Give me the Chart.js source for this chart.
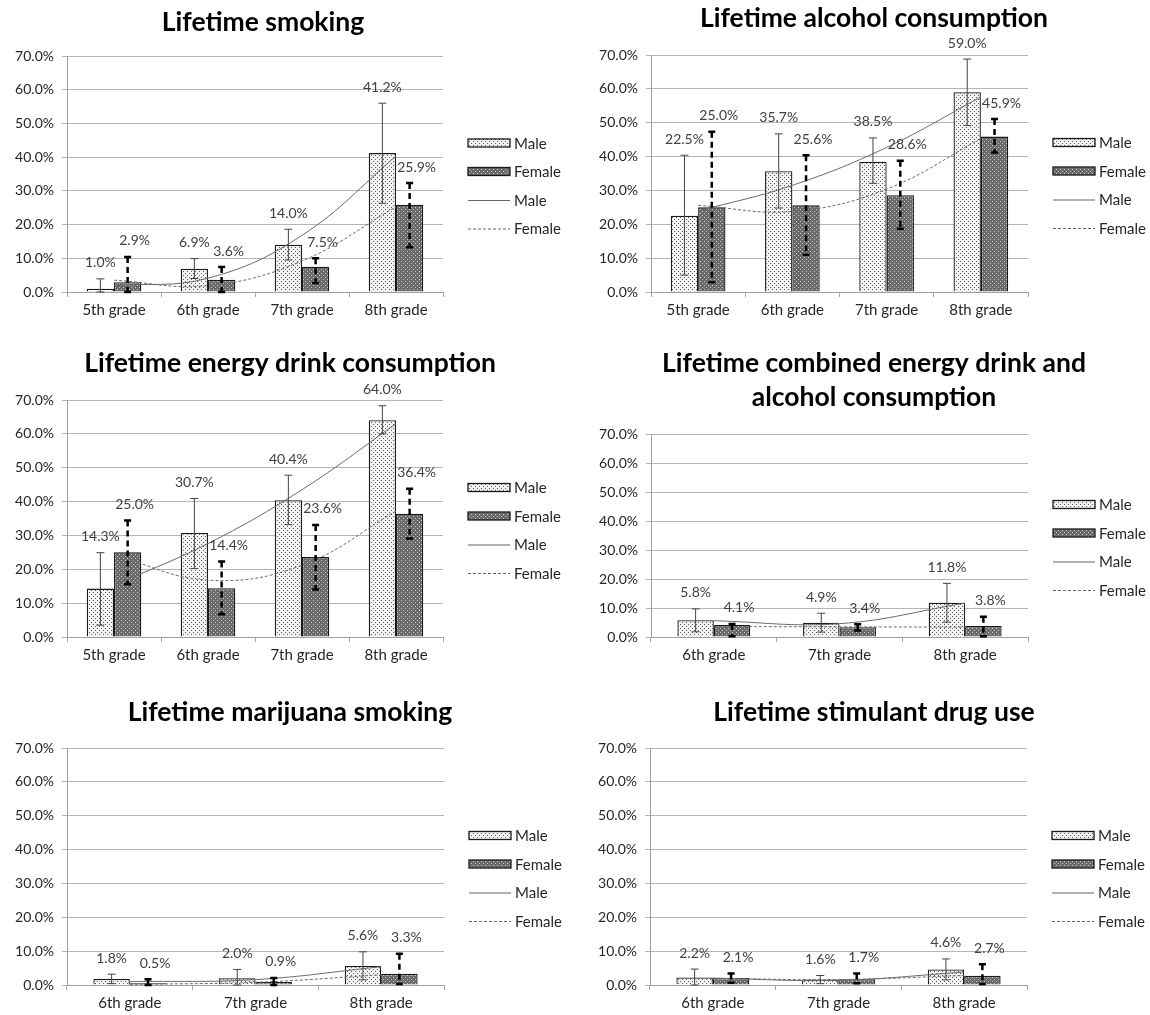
<!DOCTYPE html>
<html>
<head>
<meta charset="utf-8">
<script src="https://cdn.jsdelivr.net/npm/chart.js@4.4.0/dist/chart.umd.min.js"></script>
<style>
  body { margin: 0; background: #fff; }
  #wrap { position: relative; width: 1150px; height: 1015px; overflow: hidden; }
  canvas { position: absolute; }
</style>
</head>
<body>
<div id="wrap">
  <canvas id="c1" width="575" height="335" style="left:0px;top:0px"></canvas>
  <canvas id="c2" width="575" height="335" style="left:575px;top:0px"></canvas>
  <canvas id="c3" width="575" height="345" style="left:0px;top:335px"></canvas>
  <canvas id="c4" width="575" height="345" style="left:575px;top:335px"></canvas>
  <canvas id="c5" width="575" height="335" style="left:0px;top:680px"></canvas>
  <canvas id="c6" width="575" height="335" style="left:575px;top:680px"></canvas>
</div>
<script>
// grades
const gradesAll = ['5th grade', '6th grade', '7th grade', '8th grade'];
const gradesUpper = ['6th grade', '7th grade', '8th grade'];
const yTicks = [0, 10, 20, 30, 40, 50, 60, 70];

// Lifetime smoking
const smokeMale = [1.0, 6.9, 14.0, 41.2];
const smokeFemale = [2.9, 3.6, 7.5, 25.9];
const smokeMaleErr = [[0, 3.9], [4.0, 9.9], [9.5, 18.6], [26.3, 56.0]];
const smokeFemaleErr = [[0, 10.4], [0, 7.4], [2.7, 10.0], [13.3, 32.3]];
const smokeMaleTrend = [1.9, 4.1, 16.8, 40.3];
const smokeFemaleTrend = [3.5, 1.9, 9.2, 25.3];

// Lifetime alcohol consumption
const alcMale = [22.5, 35.7, 38.5, 59.0];
const alcFemale = [25.0, 25.6, 28.6, 45.9];
const alcMaleErr = [[5.0, 40.4], [24.8, 46.7], [32.1, 45.5], [49.2, 68.8]];
const alcFemaleErr = [[2.9, 47.3], [11.0, 40.4], [18.7, 38.8], [41.2, 51.1]];
const alcMaleTrend = [23.9, 31.5, 42.7, 57.6];
const alcFemaleTrend = [25.6, 23.8, 30.4, 45.3];

// Lifetime energy drink consumption
const edMale = [14.3, 30.7, 40.4, 64.0];
const edFemale = [25.0, 14.4, 23.6, 36.4];
const edMaleErr = [[3.5, 24.9], [20.2, 40.9], [33.2, 47.8], [60.0, 68.3]];
const edFemaleErr = [[15.6, 34.4], [6.7, 22.3], [14.0, 33.1], [29.1, 43.8]];
const edMaleTrend = [15.3, 27.6, 43.5, 63.0];
const edFemaleTrend = [24.2, 16.8, 21.2, 37.2];

// Lifetime combined energy drink and alcohol consumption
const comboMale = [5.8, 4.9, 11.8];
const comboFemale = [4.1, 3.4, 3.8];
const comboMaleErr = [[1.8, 9.7], [1.7, 8.2], [5.1, 18.5]];
const comboFemaleErr = [[0.3, 4.5], [2.2, 4.4], [0.3, 7.0]];
const comboMaleTrend = [5.6, 4.6, 11.7];
const comboFemaleTrend = [3.6, 3.5, 3.4];

// Lifetime marijuana smoking
const mjMale = [1.8, 2.0, 5.6];
const mjFemale = [0.5, 0.9, 3.3];
const mjMaleErr = [[0.4, 3.2], [0, 4.6], [1.5, 9.8]];
const mjFemaleErr = [[0, 1.7], [0, 2.1], [0.3, 9.2]];
const mjMaleTrend = [1.0, 1.6, 5.4];
const mjFemaleTrend = [0.2, 0.8, 3.0];

// Lifetime stimulant drug use
const stimMale = [2.2, 1.6, 4.6];
const stimFemale = [2.1, 1.7, 2.7];
const stimMaleErr = [[0, 4.7], [0.4, 2.8], [1.5, 7.7]];
const stimFemaleErr = [[0.7, 3.4], [0.5, 3.4], [0.3, 6.1]];
const stimMaleTrend = [2.0, 1.4, 3.8];
const stimFemaleTrend = [2.0, 1.6, 2.8];

// dotted fills like the excel patterns
function makePattern(bg, dot) {
    const c = document.createElement('canvas');
    c.width = 4; c.height = 4;
    const g = c.getContext('2d');
    g.fillStyle = bg;
    g.fillRect(0, 0, 4, 4);
    g.fillStyle = dot;
    g.fillRect(1, 1, 1, 1);
    g.fillRect(3, 3, 1, 1);
    return g.createPattern(c, 'repeat');
}
const malePat = makePattern('#f2f2f2', '#5e5e5e');
const femalePat = makePattern('#6a6a6a', '#c8c8c8');

const FONT = 'Lato, "Open Sans", sans-serif';

// canvas-space layout: y axis width, paddings
const panels = [
    { id: 'c1', title: ['Lifetime smoking'], tx: 263, ty: [22], labels: gradesAll,
      male: smokeMale, female: smokeFemale, mErr: smokeMaleErr, fErr: smokeFemaleErr,
      mTrend: smokeMaleTrend, fTrend: smokeFemaleTrend,
      yw: 67, pad: { top: 56, right: 132, bottom: 13 } },
    { id: 'c2', title: ['Lifetime alcohol consumption'], tx: 299, ty: [18], labels: gradesAll,
      male: alcMale, female: alcFemale, mErr: alcMaleErr, fErr: alcFemaleErr,
      mTrend: alcMaleTrend, fTrend: alcFemaleTrend,
      yw: 76, pad: { top: 55, right: 122, bottom: 13 } },
    { id: 'c3', title: ['Lifetime energy drink consumption'], tx: 290, ty: [28], labels: gradesAll,
      male: edMale, female: edFemale, mErr: edMaleErr, fErr: edFemaleErr,
      mTrend: edMaleTrend, fTrend: edFemaleTrend,
      yw: 67, pad: { top: 65, right: 132, bottom: 13 } },
    { id: 'c4', title: ['Lifetime combined energy drink and', 'alcohol consumption'], tx: 299, ty: [28, 62], labels: gradesUpper,
      male: comboMale, female: comboFemale, mErr: comboMaleErr, fErr: comboFemaleErr,
      mTrend: comboMaleTrend, fTrend: comboFemaleTrend,
      yw: 76, pad: { top: 99, right: 122, bottom: 13 } },
    { id: 'c5', title: ['Lifetime marijuana smoking'], tx: 290, ty: [32], labels: gradesUpper,
      male: mjMale, female: mjFemale, mErr: mjMaleErr, fErr: mjFemaleErr,
      mTrend: mjMaleTrend, fTrend: mjFemaleTrend,
      yw: 67, pad: { top: 68, right: 131, bottom: 0 } },
    { id: 'c6', title: ['Lifetime stimulant drug use'], tx: 299, ty: [32], labels: gradesUpper,
      male: stimMale, female: stimFemale, mErr: stimMaleErr, fErr: stimFemaleErr,
      mTrend: stimMaleTrend, fTrend: stimFemaleTrend,
      yw: 75, pad: { top: 68, right: 123, bottom: 0 } }
];

function drawErrBars(ctx, meta, err, yScale, female) {
    meta.data.forEach((bar, i) => {
        const x = bar.x;
        const yl = yScale.getPixelForValue(err[i][0]);
        const yh = yScale.getPixelForValue(err[i][1]);
        ctx.save();
        if (female) {
            ctx.strokeStyle = '#000';
            ctx.lineWidth = 2.5;
            ctx.setLineDash([6, 4]);
        } else {
            ctx.strokeStyle = '#444';
            ctx.lineWidth = 1;
        }
        ctx.beginPath();
        ctx.moveTo(x, yh);
        ctx.lineTo(x, yl);
        ctx.stroke();
        ctx.setLineDash([]);
        const cw = female ? 3.5 : 4;
        ctx.beginPath();
        ctx.moveTo(x - cw, yh); ctx.lineTo(x + cw, yh);
        ctx.moveTo(x - cw, yl); ctx.lineTo(x + cw, yl);
        ctx.stroke();
        ctx.restore();
    });
}

function makeDecor(p) {
    return {
        id: 'decor',
        afterDatasetsDraw(chart) {
            const ctx = chart.ctx;
            const y = chart.scales.y;
            const mMeta = chart.getDatasetMeta(0);
            const fMeta = chart.getDatasetMeta(1);
            drawErrBars(ctx, mMeta, p.mErr, y, false);
            drawErrBars(ctx, fMeta, p.fErr, y, true);

            // value labels above the error bars
            ctx.save();
            ctx.font = '14px ' + FONT;
            ctx.fillStyle = '#404040';
            ctx.textAlign = 'center';
            ctx.textBaseline = 'middle';
            mMeta.data.forEach((bar, i) => {
                ctx.fillText(p.male[i].toFixed(1) + '%', bar.x, y.getPixelForValue(p.mErr[i][1]) - 16);
            });
            fMeta.data.forEach((bar, i) => {
                ctx.fillText(p.female[i].toFixed(1) + '%', bar.x + 7, y.getPixelForValue(p.fErr[i][1]) - 16);
            });
            ctx.restore();
        },
        afterDraw(chart) {
            const ctx = chart.ctx;
            const a = chart.chartArea;
            ctx.save();
            // title
            ctx.font = 'bold 26.5px ' + FONT;
            ctx.fillStyle = '#000';
            ctx.textAlign = 'center';
            ctx.textBaseline = 'middle';
            p.title.forEach((t, i) => ctx.fillText(t, p.tx, p.ty[i]));

            // legend
            const x0 = a.right + 25;
            const y0 = (a.top + a.bottom) / 2 - 31;
            const items = [
                { kind: 'bar', fill: malePat, text: 'Male' },
                { kind: 'bar', fill: femalePat, text: 'Female' },
                { kind: 'line', dash: [], text: 'Male' },
                { kind: 'line', dash: [3, 2], text: 'Female' }
            ];
            ctx.font = '15px ' + FONT;
            ctx.textAlign = 'left';
            items.forEach((it, i) => {
                const yy = y0 + i * 28.5;
                if (it.kind === 'bar') {
                    ctx.fillStyle = it.fill;
                    ctx.fillRect(x0, yy - 4, 42, 8);
                    ctx.strokeStyle = '#1a1a1a';
                    ctx.lineWidth = 1.3;
                    ctx.strokeRect(x0, yy - 4, 42, 8);
                } else {
                    ctx.strokeStyle = '#666';
                    ctx.lineWidth = 1;
                    ctx.setLineDash(it.dash);
                    ctx.beginPath();
                    ctx.moveTo(x0, yy + 0.5);
                    ctx.lineTo(x0 + 42, yy + 0.5);
                    ctx.stroke();
                    ctx.setLineDash([]);
                }
                ctx.fillStyle = '#262626';
                ctx.fillText(it.text, x0 + 46, yy + 1);
            });
            ctx.restore();
        }
    };
}

panels.forEach((p) => {
    const canvas = document.getElementById(p.id);
    new Chart(canvas, {
        type: 'bar',
        data: {
            labels: p.labels,
            datasets: [
                { type: 'bar', label: 'Male', data: p.male, backgroundColor: malePat,
                  borderColor: '#1a1a1a', borderWidth: 1.3, categoryPercentage: 0.58, barPercentage: 1, order: 3 },
                { type: 'bar', label: 'Female', data: p.female, backgroundColor: femalePat,
                  borderColor: '#1a1a1a', borderWidth: 1.3, categoryPercentage: 0.58, barPercentage: 1, order: 3 },
                { type: 'line', label: 'Male', data: p.mTrend, borderColor: '#6b6b6b', borderWidth: 1,
                  pointRadius: 0, tension: 0.4, fill: false, order: 1 },
                { type: 'line', label: 'Female', data: p.fTrend, borderColor: '#6b6b6b', borderWidth: 1,
                  borderDash: [3, 2], pointRadius: 0, tension: 0.4, fill: false, order: 1 }
            ]
        },
        options: {
            responsive: false,
            animation: false,
            events: [],
            layout: { padding: { top: p.pad.top, right: p.pad.right, bottom: p.pad.bottom, left: 0 } },
            plugins: {
                legend: { display: false },
                title: { display: false },
                tooltip: { enabled: false }
            },
            scales: {
                x: {
                    grid: { display: true, drawOnChartArea: false, drawTicks: true, tickLength: 5, color: '#a6a6a6', offset: true },
                    border: { display: true, color: '#a0a0a0' },
                    ticks: { color: '#262626', font: { family: FONT, size: 15 }, padding: 4, maxRotation: 0, autoSkip: false },
                    afterFit(s) { s.height = 30; }
                },
                y: {
                    min: 0,
                    max: 70,
                    afterBuildTicks(s) { s.ticks = yTicks.map(v => ({ value: v })); },
                    ticks: { callback: v => v.toFixed(1) + '%', color: '#262626', font: { family: FONT, size: 14 }, padding: 8 },
                    grid: { color: '#b5b5b5', tickLength: 5, drawTicks: true },
                    border: { display: true, color: '#a0a0a0' },
                    afterFit(s) { s.width = p.yw; }
                }
            }
        },
        plugins: [makeDecor(p)]
    });
});
</script>
</body>
</html>
